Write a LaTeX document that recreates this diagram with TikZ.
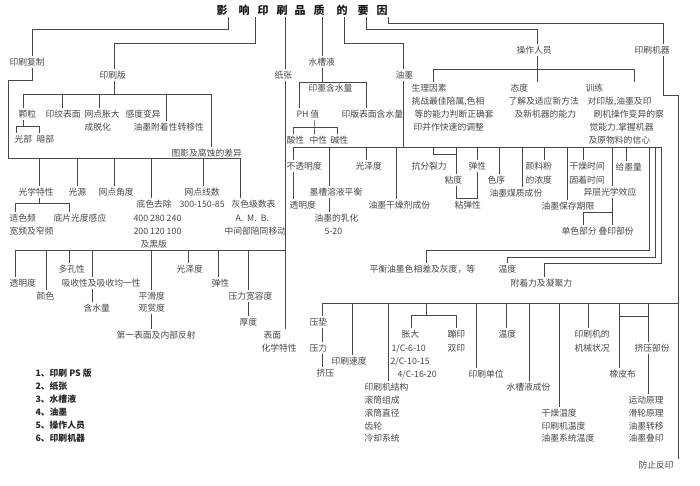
\documentclass[tikz,border=0pt]{standalone}
\usepackage{fontspec}
\newfontfamily\cjk{Noto Sans CJK SC}
\newcommand\ntop[2]{(#1,0 |- #2.north)}
\newcommand\nbot[2]{(#1,0 |- #2.south)}
\newcommand\joinv[3]{\draw[ln] \nbot{#1}{#2} -- \ntop{#1}{#3};}

\begin{document}
\begin{tikzpicture}[x=1pt,y=-1pt,
  ln/.style={draw=black!72, line width=0.7pt},
  lbl/.style={anchor=west, inner sep=0pt, outer sep=1.5pt, text height=7.4pt, text depth=1pt,
    text=black!72, font=\cjk\fontsize{8.8}{10}\selectfont},
  ttl/.style={inner sep=0pt, outer sep=2pt, text height=9.5pt, text depth=1.5pt,
    text=black!90, font=\cjk\bfseries\fontsize{11}{12}\selectfont},
  key/.style={lbl, text=black!85, font=\cjk\bfseries\fontsize{8.8}{10}\selectfont}]
  \useasboundingbox (0,0) rectangle (700,485);
  \foreach \x/\c [count=\i] in {222/影,244/响,263/印,282/刷,300/品,319/质,342/的,363/要,382/因}
    \node[ttl] (t\i) at (\x,10) {\c};

  % 印刷复制
  \node[lbl] (fz) at (8,62) {印刷复制};
  \node[lbl] (gx) at (17,192) {光学特性};
  \node[lbl] (gy) at (67,192) {光源};
  \node[lbl] (jd) at (97,192) {网点角度};
  \node[lbl] (ds1) at (135,204) {底色去除};
  \node[lbl] (ds2) at (132,218) {400 280 240};
  \node[lbl] (ds3) at (132,231) {200 120 100};
  \node[lbl] (ds4) at (139,244) {及黑版};
  \node[lbl] (xs1) at (183,192) {网点线数};
  \node[lbl] (xs2) at (178,204) {300-150-85};
  \node[lbl] (hs1) at (230,204) {灰色级数表};
  \node[lbl] (hs2) at (234,218) {A.~~M.~~B.};
  \node[lbl] (hs3) at (223,231) {中间部陪同移动};
  \node[lbl] (sp1) at (8,218) {适色频};
  \node[lbl] (sp2) at (8,231) {宽频及窄频};
  \node[lbl] (dp) at (52,218) {底片光度感应};
  \draw[ln] (228,17) |- (32,29) -- \ntop{32}{fz};
  \draw[ln] \nbot{32}{fz} |- (8,80) -- (8,158) -| \ntop{240}{hs1};
  \foreach \x/\n in {39/gx,77/gy,114/jd,151/ds1,203/xs1}
    \draw[ln] (\x,158) -- \ntop{\x}{\n};
  \draw[ln] \nbot{39}{gx} -- (39,203);
  \draw[ln] \ntop{15}{sp1} |- (69,203) -- \ntop{69}{dp};

  % 印刷版
  \node[lbl] (ysb) at (98,75) {印刷版};
  \node[lbl] (kl) at (17,114) {颗粒};
  \node[lbl] (gb) at (13,139) {光部};
  \node[lbl] (ab) at (35,139) {暗部};
  \node[lbl] (ywbm) at (44,114) {印纹表面};
  \node[lbl] (wdzd) at (83,114) {网点胀大};
  \node[lbl] (wdzd2) at (83,127) {成脱化};
  \node[lbl] (gdby) at (124,114) {感度变异};
  \node[lbl] (fzx) at (132,127) {油墨附着性转移性};
  \node[lbl] (tyfs) at (170,153) {图影及腐蚀的差异};
  \draw[ln] (255,17) |- (114,43) -- \ntop{114}{ysb};
  \draw[ln] \nbot{114}{ysb} -- (114,94);
  \draw[ln] (23,94) -- (211,94);
  \foreach \x/\n in {23/kl,62/ywbm,99/wdzd,166/fzx,211/tyfs}
    \draw[ln] (\x,94) -- \ntop{\x}{\n};
  \draw[ln] \nbot{23}{kl} -- (23,126);
  \draw[ln] \ntop{16}{gb} |- (39,126) -- \ntop{39}{ab};

  % 纸张
  \node[lbl] (zz) at (273,75) {纸张};
  \node[lbl] (tmd) at (8,283) {透明度};
  \node[lbl] (ys) at (35,296) {颜色};
  \node[lbl] (dkx) at (57,269) {多孔性};
  \node[lbl] (xsx) at (60,283) {吸收性及吸收均一性};
  \node[lbl] (hsl) at (82,308) {含水量};
  \node[lbl] (phd) at (137,296) {平滑度};
  \node[lbl] (gsd) at (137,308) {观赏度};
  \node[lbl] (fs) at (115,335) {第一表面及内部反射};
  \node[lbl] (gzd) at (175,269) {光泽度};
  \node[lbl] (tx) at (210,283) {弹性};
  \node[lbl] (ylk) at (227,296) {压力宽容度};
  \node[lbl] (hd) at (238,322) {厚度};
  \node[lbl] (bm1) at (262,335) {表面};
  \node[lbl] (bm2) at (260,348) {化学特性};
  \draw[ln] (285,17) -- \ntop{285}{zz};
  \draw[ln] \nbot{285}{zz} -- \ntop{285}{bm1};
  \draw[ln] (15,250) -- (285,250);
  \foreach \x/\n in {15/tmd,46/ys,69/dkx,92/xsx,151/phd,188/gzd,218/tx,248/ylk}
    \draw[ln] (\x,250) -- \ntop{\x}{\n};
  \joinv{92}{xsx}{hsl}
  \joinv{151}{gsd}{fs}
  \joinv{248}{ylk}{hd}

  % 水槽液
  \node[lbl] (sc) at (307,62) {水槽液};
  \node[lbl] (ymh) at (307,88) {印墨含水量};
  \node[lbl] (ph) at (295,114) {PH 值};
  \node[lbl] (bmh) at (340,114) {印版表面含水量};
  \node[lbl] (sx) at (285,140) {酸性};
  \node[lbl] (zx) at (308,140) {中性};
  \node[lbl] (jx) at (329,140) {碱性};
  \draw[ln] (322,17) -- \ntop{322}{sc};
  \draw[ln] \nbot{322}{sc} -- (322,82);
  \draw[ln] \ntop{299}{ph} |- (366,82) -- \ntop{366}{bmh};
  \draw[ln] \nbot{314}{ph} -- (314,127) -- \ntop{314}{zx};
  \draw[ln] \ntop{293}{sx} |- (337,127) -- \ntop{337}{jx};

  % 油墨
  \node[lbl] (ym) at (394,75) {油墨};
  \node[lbl] (btm) at (285,166) {不透明度};
  \node[lbl] (tm2) at (288,205) {透明度};
  \node[lbl] (ph1) at (308,192) {墨槽溶液平衡};
  \node[lbl] (rh) at (313,218) {油墨的乳化};
  \node[lbl] (rh2) at (323,231) {5-20};
  \node[lbl] (gz) at (354,166) {光泽度};
  \node[lbl] (gzj) at (367,205) {油墨干燥剂成份};
  \node[lbl] (kf) at (410,166) {抗分裂力};
  \node[lbl] (nd) at (443,180) {粘度};
  \node[lbl] (tx2) at (467,166) {弹性};
  \node[lbl] (ntx) at (453,205) {粘弹性};
  \node[lbl] (sx2) at (486,180) {色序};
  \node[lbl] (yl1) at (524,166) {颜料粉};
  \node[lbl] (yl2) at (524,180) {的浓度};
  \node[lbl] (mz) at (488,193) {油墨煤质成份};
  \node[lbl] (bc) at (540,206) {油墨保存期限};
  \node[lbl] (gs1) at (568,166) {干燥时间};
  \node[lbl] (gs2) at (568,180) {固着时间};
  \node[lbl] (yc) at (582,192) {异层光学效应};
  \node[lbl] (dsb) at (560,231) {单色部分};
  \node[lbl] (dyb) at (597,231) {叠印部份};
  \node[lbl] (gml) at (614,167) {给墨量};
  \node[lbl] (ph2) at (368,269) {平衡油墨色相差及灰度，等};
  \node[lbl] (wd1) at (497,269) {温度};
  \node[lbl] (fz2) at (509,283) {附着力及凝聚力};
  \draw[ln] (344,17) |- (403,43) -- \ntop{403}{ym};
  \draw[ln] \nbot{403}{ym} -- (403,147);
  \draw[ln] (293,147) -- (661,147);
  \foreach \x/\n in {293/btm,329/ph1,366/gz,396/gzj,456/nd,477/tx2,499/sx2,522/mz,544/yl1,567/bc,583/gs1,612/yc,626/gml}
    \draw[ln] (\x,147) -- \ntop{\x}{\n};
  \joinv{293}{btm}{tm2}
  \joinv{329}{ph1}{rh}
  \draw[ln] (433,147) |- (456,154);
  \draw[ln] \nbot{456}{nd} |- (477,198) -- \nbot{477}{tx2};
  \draw[ln] \nbot{612}{yc} -- (612,212);
  \draw[ln] \ntop{583}{dsb} |- (612,212) -- \ntop{612}{dyb};
  \draw[ln] (649,147) |- (426,250) -- \ntop{426}{ph2};
  \draw[ln] (655,147) |- (507,257) -- \ntop{507}{wd1};
  \draw[ln] (661,147) |- (544,263) -- \ntop{544}{fz2};

  % 操作人员
  \node[lbl] (cz) at (515,50) {操作人员};
  \node[lbl] (sl1) at (410,88) {生理因素};
  \node[lbl] (sl2) at (410,101) {挑战最佳陪属,色相};
  \node[lbl] (sl3) at (413,114) {等的能力判断正确套};
  \node[lbl] (sl4) at (412,127) {印并作快速的调整};
  \node[lbl] (td1) at (509,88) {态度};
  \node[lbl] (td2) at (507,101) {了解及适应新方法};
  \node[lbl] (td3) at (513,114) {及新机器的能力};
  \node[lbl] (xl1) at (584,88) {训练};
  \node[lbl] (xl2) at (586,101) {对印版,油墨及印};
  \node[lbl] (xl3) at (592,114) {刷机操作变异的察};
  \node[lbl] (xl4) at (588,127) {觉能力.掌握机器};
  \node[lbl] (xl5) at (587,140) {及原物料的信心};
  \draw[ln] (366,17) |- (537,29) -- \ntop{537}{cz};
  \draw[ln] \nbot{537}{cz} -- (537,82);
  \draw[ln] \ntop{433}{sl1} |- (634,69) -- (634,82);

  % 印刷机器
  \node[lbl] (jq) at (633,50) {印刷机器};
  \node[lbl] (fy) at (637,465) {防止反印};
  \node[lbl] (yd) at (308,322) {压垫};
  \node[lbl] (yl) at (308,348) {压力};
  \node[lbl] (jy) at (315,373) {挤压};
  \node[lbl] (sd) at (330,361) {印刷速度};
  \node[lbl] (jg1) at (363,387) {印刷机结构};
  \node[lbl] (jg2) at (363,400) {滚筒组成};
  \node[lbl] (jg3) at (363,413) {滚筒直径};
  \node[lbl] (jg4) at (363,426) {齿轮};
  \node[lbl] (jg5) at (363,438) {冷却系统};
  \node[lbl] (zd) at (400,334) {胀大};
  \node[lbl] (c1) at (390,348) {1/C-6-10};
  \node[lbl] (c2) at (389,361) {2/C-10-15};
  \node[lbl] (c3) at (396,374) {4/C-16-20};
  \node[lbl] (by) at (446,334) {蹦印};
  \node[lbl] (sy) at (446,348) {双印};
  \node[lbl] (dw) at (467,374) {印刷单位};
  \node[lbl] (wd2) at (497,334) {温度};
  \node[lbl] (scf) at (505,387) {水槽液成份};
  \node[lbl] (gw1) at (540,413) {干燥温度};
  \node[lbl] (gw2) at (540,426) {印刷机温度};
  \node[lbl] (gw3) at (540,438) {油墨系统温度};
  \node[lbl] (jx1) at (573,334) {印刷机的};
  \node[lbl] (jx2) at (573,348) {机械状况};
  \node[lbl] (xpb) at (608,374) {橡皮布};
  \node[lbl] (jyb) at (633,348) {挤压部份};
  \node[lbl] (yy1) at (627,400) {运动原理};
  \node[lbl] (yy2) at (627,413) {滑轮原理};
  \node[lbl] (yy3) at (627,426) {油墨转移};
  \node[lbl] (yy4) at (627,438) {油墨叠印};
  \draw[ln] (388,17) |- (663,23) -- \ntop{663}{jq};
  \draw[ln] \nbot{663}{jq} |- (678,95) -- \ntop{678}{fy};
  \draw[ln] (322,303) -- (678,303);
  \draw[ln] (322,303) -- \ntop{322}{yd};
  \joinv{322}{yd}{yl}
  \joinv{322}{yl}{jy}
  \foreach \x/\n in {352/sd,388/jg1,476/dw,506/wd2,529/scf,559/gw1,588/jx1,619/xpb,648/jyb}
    \draw[ln] (\x,303) -- \ntop{\x}{\n};
  \draw[ln] (426,303) -- (426,315);
  \draw[ln] \ntop{411}{zd} |- (456,315) -- \ntop{456}{by};
  \draw[ln] (619,316) -- (648,316);
  \joinv{648}{jyb}{yy1}

  % 图例
  \foreach \t [count=\i, evaluate=\i as \yy using 360+\i*13] in {印刷 PS 版,纸张,水槽液,油墨,操作人员,印刷机器}
    \node[key] (k\i) at (34,\yy) {\i、\t};
\end{tikzpicture}
\end{document}
